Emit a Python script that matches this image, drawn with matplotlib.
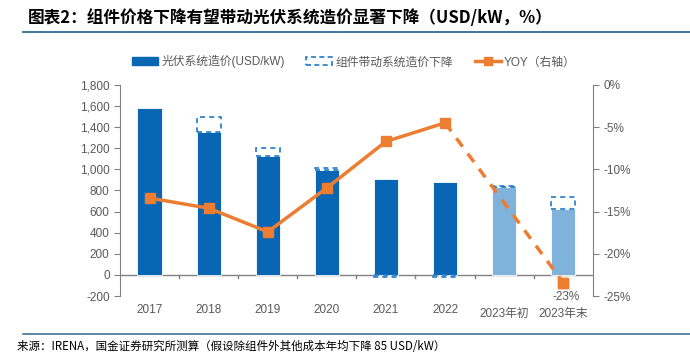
import matplotlib.pyplot as plt
import matplotlib.patches as mpatches
from matplotlib.lines import Line2D
import numpy as np

plt.rcParams['font.family'] = ['Liberation Sans', 'Noto Sans CJK SC', 'DejaVu Sans']

# data
years = ['2017', '2018', '2019', '2020', '2021', '2022', '2023年初', '2023年末']
system_cost = [1585, 1355, 1125, 990, 910, 876, 828, 626]
module_drop = [0, 140, 75, 22, -15, -15, 18, 110]
yoy = [-13.4, -14.6, -17.4, -12.2, -6.7, -4.5, np.nan, -23.4]
yoy_forecast = [-4.5, -23.4]  # 2022 -> 2023年末

dark = '#0866B4'
light = '#80B3DB'
orange = '#ED7D31'
edge_blue = '#1F78C8'
grey = '#808080'
txt = '#595959'

fig = plt.figure(figsize=(6.9, 3.58), dpi=100)
ax = fig.add_axes([0.174, 0.173, 0.685, 0.590])
ax2 = ax.twinx()

x = np.arange(len(years))
w = 0.41
colors = [dark] * 6 + [light] * 2
ax.bar(x, system_cost, width=w, color=colors, edgecolor='white', linewidth=0.6, zorder=2)

for i in range(len(years)):
    if module_drop[i] == 0:
        continue
    b = system_cost[i] if module_drop[i] > 0 else 0
    ax.add_patch(mpatches.Rectangle((x[i] - w / 2, b), w, module_drop[i], fill=False,
                                    edgecolor=edge_blue, linestyle=(0, (3, 2.5)),
                                    linewidth=1.2, zorder=3))

ax.set_xlim(-0.5, 7.5)
ax.set_ylim(-200, 1800)
ax.set_yticks(range(-200, 1801, 200))
ax.set_yticklabels([f'{v:,}' for v in range(-200, 1801, 200)])
ax.axhline(0, color=grey, linewidth=1.0, zorder=1)
for b in np.arange(0.5, 7.5, 1.0):
    ax.plot([b, b], [0, -30], color=grey, linewidth=1.0, zorder=1)

ax.set_xticks(x)
ax.set_xticklabels(years)
ax.tick_params(axis='x', length=0, pad=6, labelsize=8.5, labelcolor=txt)
for lbl in ax.get_xticklabels()[6:]:
    lbl.set_y(-0.015)
ax.tick_params(axis='y', length=4, color=grey, labelsize=8.5, labelcolor=txt)

ax2.plot(x, yoy, color=orange, linewidth=2.5, marker='s', markersize=7, zorder=4)
ax2.plot([x[5], x[7]], yoy_forecast, color=orange, linewidth=2.5,
         linestyle=(0, (3, 2.5)), zorder=4)
ax2.plot([x[7]], [yoy[7]], color=orange, marker='s', markersize=7, linestyle='none', zorder=4)
ax2.text(x[7] + 0.05, yoy[7] - 0.95, '-23%', ha='center', va='top', fontsize=8.5, color=txt)
ax2.set_ylim(-25, 0)
ax2.set_yticks(range(-25, 1, 5))
ax2.set_yticklabels([f'{v}%' for v in range(-25, 1, 5)])
ax2.tick_params(axis='y', length=4, color=grey, labelsize=8.5, labelcolor=txt)

for a in (ax, ax2):
    a.spines['top'].set_visible(False)
    a.spines['bottom'].set_visible(False)
    a.spines['left'].set_color(grey)
    a.spines['right'].set_color(grey)
ax.spines['right'].set_visible(False)
ax2.spines['left'].set_visible(False)
ax.set_zorder(ax2.get_zorder() - 1)
ax.patch.set_visible(False)

handles = [
    mpatches.Patch(facecolor=dark, edgecolor=dark),
    mpatches.Patch(facecolor='none', edgecolor=edge_blue, linestyle=(0, (3, 2)), linewidth=1.2),
    Line2D([0], [0], color=orange, linewidth=2.5, marker='s', markersize=6),
]
fig.legend(handles, ['光伏系统造价(USD/kW)', '组件带动系统造价下降', 'YOY（右轴）'],
           loc='center', bbox_to_anchor=(0.513, 0.827), ncol=3, frameon=False,
           fontsize=8.5, labelcolor=txt, handlelength=2.2, handletextpad=0.3,
           columnspacing=1.8)

fig.text(0.04, 0.95, '图表2：组件价格下降有望带动光伏系统造价显著下降（USD/kW，%）',
         fontsize=12, fontweight='bold', family=['Noto Sans CJK SC'], va='center')
fig.add_artist(Line2D([0.033, 1.0], [0.911, 0.911], color='#2E6A8E', linewidth=1.3))
fig.add_artist(Line2D([0.033, 1.0], [0.067, 0.067], color='#2E6A8E', linewidth=1.1))
fig.text(0.025, 0.031, '来源：IRENA，国金证券研究所测算（假设除组件外其他成本年均下降 85 USD/kW）',
         fontsize=8.3, family=['Noto Sans CJK SC'], va='center')

fig.savefig('out.png', dpi=100)
